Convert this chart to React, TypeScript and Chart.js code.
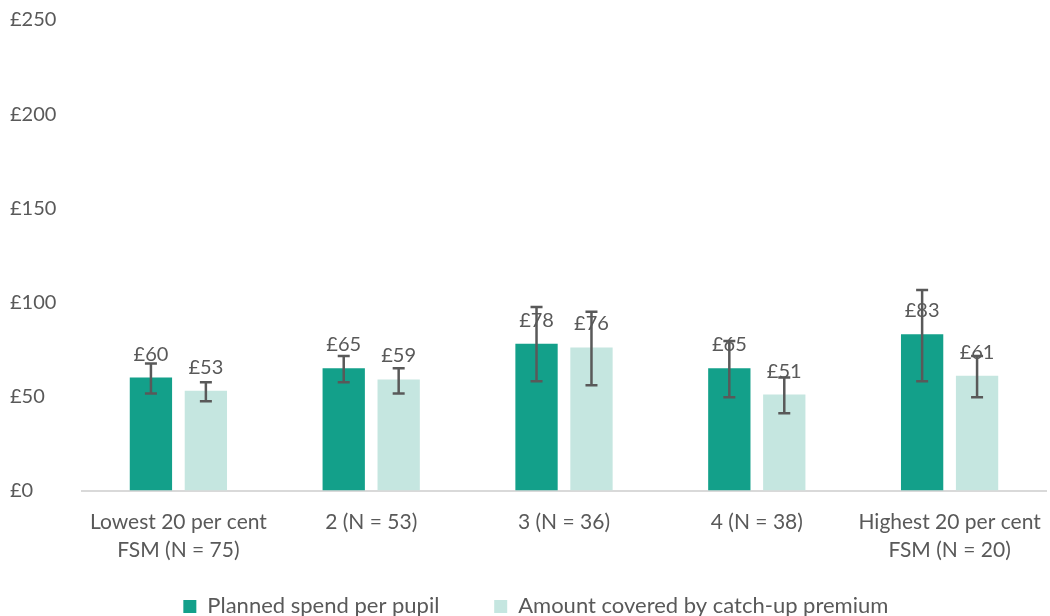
import React, { useEffect, useRef } from "react";
import { Chart, registerables } from "chart.js";

Chart.register(...registerables);

const categories: string[][] = [
  ["Lowest 20 per cent", "FSM (N = 75)"],
  ["2 (N = 53)"],
  ["3 (N = 36)"],
  ["4 (N = 38)"],
  ["Highest 20 per cent", "FSM (N = 20)"],
];
const plannedSpend = [60, 65, 78, 65, 83];
const plannedLow = [51.5, 57.5, 58, 49.5, 58];
const plannedHigh = [67.5, 71.5, 97.5, 79.5, 106.5];
const premiumCovered = [53, 59, 76, 51, 61];
const premiumLow = [47.5, 51.5, 56, 41, 49.5];
const premiumHigh = [57.5, 65, 95, 60, 71.5];
const yTicks = [0, 50, 100, 150, 200, 250];

const FONT = "Lato, 'Open Sans', sans-serif";
const TEXT = "#595959";

const errorBarPlugin = {
  id: "errorBars",
  afterDatasetsDraw(chart: any) {
    const ctx = chart.ctx;
    const y = chart.scales.y;
    // value labels first, error bars drawn over them
    ctx.save();
    ctx.fillStyle = TEXT;
    ctx.font = `20px ${FONT}`;
    ctx.textAlign = "center";
    ctx.textBaseline = "alphabetic";
    chart.data.datasets.forEach((ds: any, di: number) => {
      const meta = chart.getDatasetMeta(di);
      meta.data.forEach((bar: any, i: number) => {
        ctx.fillText("£" + ds.data[i], bar.x, bar.y - 17);
      });
    });
    ctx.restore();

    const lows = [plannedLow, premiumLow];
    const highs = [plannedHigh, premiumHigh];
    ctx.save();
    ctx.strokeStyle = "#595959";
    ctx.lineWidth = 2.5;
    chart.data.datasets.forEach((_: any, di: number) => {
      const meta = chart.getDatasetMeta(di);
      meta.data.forEach((bar: any, i: number) => {
        const x = bar.x;
        const yl = y.getPixelForValue(lows[di][i]);
        const yh = y.getPixelForValue(highs[di][i]);
        ctx.beginPath();
        ctx.moveTo(x, yl);
        ctx.lineTo(x, yh);
        ctx.moveTo(x - 6, yl);
        ctx.lineTo(x + 6, yl);
        ctx.moveTo(x - 6, yh);
        ctx.lineTo(x + 6, yh);
        ctx.stroke();
      });
    });
    ctx.restore();
  },
};

export default function App() {
  const ref = useRef<HTMLCanvasElement>(null);
  useEffect(() => {
    document.body.style.margin = "0";
    const chart = new Chart(ref.current!, {
      type: "bar",
      data: {
        labels: categories,
        datasets: [
          {
            label: "Planned spend per pupil",
            data: plannedSpend,
            backgroundColor: "#13a08a",
            borderColor: "#13a08a",
            categoryPercentage: 0.57,
            barPercentage: 0.77,
          },
          {
            label: "Amount covered by catch-up premium",
            data: premiumCovered,
            backgroundColor: "#c5e6e0",
            borderColor: "#c5e6e0",
            categoryPercentage: 0.57,
            barPercentage: 0.77,
          },
        ],
      },
      options: {
        animation: false,
        responsive: false,
        layout: { padding: { top: 20, right: 4, left: 10, bottom: -11.4 } },
        plugins: {
          tooltip: { enabled: false },
          legend: {
            position: "bottom",
            fullSize: false,
            labels: {
              color: TEXT,
              font: { family: FONT, size: 22 },
              boxWidth: 13,
              boxHeight: 13,
              padding: 21,
              generateLabels: (c: any) => {
                const items = Chart.defaults.plugins.legend.labels.generateLabels(c);
                return items.map((it: any, i: number) =>
                  i === 0
                    ? { ...it, text: it.text + "      " }
                    : { ...it, text: it.text + "          " }
                );
              },
            },
          },
        },
        scales: {
          x: {
            grid: { display: false },
            border: { color: "#d9d9d9", width: 2 },
            ticks: {
              color: TEXT,
              font: { family: FONT, size: 21, lineHeight: 1.33 },
              maxRotation: 0,
              autoSkip: false,
              padding: 10,
            },
            afterFit: (axis: any) => {
              axis.paddingLeft = 0;
              axis.paddingRight = 0;
            },
          },
          y: {
            min: 0,
            max: 250,
            afterBuildTicks: (axis: any) => {
              axis.ticks = yTicks.map((v) => ({ value: v }));
            },
            grid: { display: false },
            border: { display: false },
            ticks: {
              color: TEXT,
              font: { family: FONT, size: 20 },
              padding: 10,
              callback: (v: any) => "£" + v,
              crossAlign: "far",
            },
            afterFit: (axis: any) => {
              axis.width = 72;
              axis.paddingTop = 0;
              axis.paddingBottom = 0;
            },
          },
        },
      },
      plugins: [errorBarPlugin],
    });
    return () => chart.destroy();
  }, []);
  return <canvas ref={ref} width={1050} height={616} />;
}
